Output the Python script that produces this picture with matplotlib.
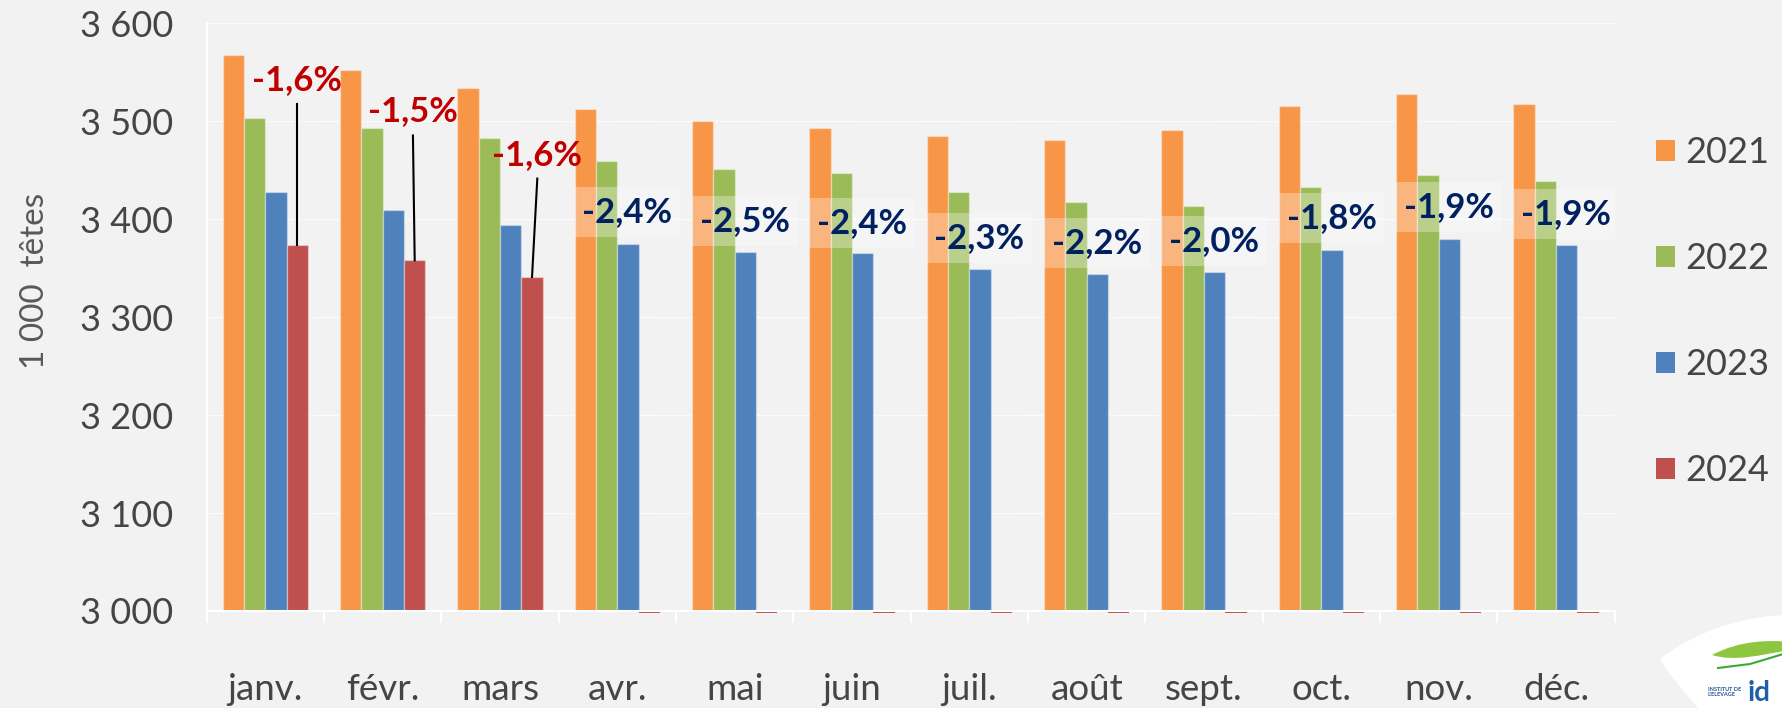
import matplotlib
matplotlib.use("Agg")
import matplotlib.pyplot as plt
import numpy as np
from matplotlib.patches import Rectangle, PathPatch
from matplotlib.path import Path
from matplotlib.lines import Line2D

# ---------------- data ----------------
months = ["janv.", "févr.", "mars", "avr.", "mai", "juin",
          "juil.", "août", "sept.", "oct.", "nov.", "déc."]
years = ["2021", "2022", "2023", "2024"]
v2021 = [3568, 3552, 3534, 3513, 3500, 3493, 3485, 3481, 3491, 3516, 3528, 3518]
v2022 = [3503, 3493, 3483, 3459, 3451, 3447, 3428, 3418, 3413, 3433, 3445, 3439]
v2023 = [3428, 3409, 3394, 3375, 3367, 3365, 3349, 3344, 3346, 3369, 3380, 3374]
v2024 = [3374, 3358, 3341, None, None, None, None, None, None, None, None, None]
pct_labels = ["-1,6%", "-1,5%", "-1,6%", "-2,4%", "-2,5%", "-2,4%",
              "-2,3%", "-2,2%", "-2,0%", "-1,8%", "-1,9%", "-1,9%"]
yticks = [3000, 3100, 3200, 3300, 3400, 3500, 3600]

# ---------------- layout / style ----------------
W, H = 1783, 708
BG = "#F2F2F2"
colors = ["#F79646", "#9BBB59", "#4F81BD", "#C0504D"]
FONT = "Lato"
TXT = "#454545"
# annotation placement (layout only)
red_label_y = [3542, 3510, 3466]
red_label_dx = [0.0, -0.015, 0.045]
navy_label_y = [3407, 3398, 3396, 3381, 3376, 3378, 3401.5, 3412, 3405]

plt.rcParams["font.family"] = [FONT, "DejaVu Sans"]

fig = plt.figure(figsize=(W / 100, H / 100), dpi=100, facecolor=BG)
ax_l, ax_r, ax_t, ax_b = 206.7, 1614.7, 23.3, 611.0
ax = fig.add_axes([ax_l / W, 1 - ax_b / H, (ax_r - ax_l) / W, (ax_b - ax_t) / H])
ax.set_facecolor(BG)

x = np.arange(len(months))
w = 0.1818
offsets = [-1.5 * w, -0.5 * w, 0.5 * w, 1.5 * w]
series = [v2021, v2022, v2023, v2024]
handles = []
for vals, off, c, yr in zip(series, offsets, colors, years):
    present = [(xi, v) for xi, v in zip(x, vals) if v is not None]
    missing = [xi for xi, v in zip(x, vals) if v is None]
    px = np.array([p[0] for p in present])
    pv = np.array([p[1] for p in present], dtype=float)
    b = ax.bar(px + off, pv - 3000, bottom=3000, width=w, color=c,
               edgecolor=(1, 1, 1, 0.35), linewidth=1.0, zorder=2, label=yr)
    handles.append(b)
    if missing:
        ax.bar(np.array(missing) + off, -2.0, bottom=3000, width=w, color=c,
               linewidth=0, zorder=2, clip_on=False)

ax.set_xlim(-0.5, len(months) - 0.5)
ax.set_ylim(3000, 3600)

# grid
ax.set_yticks(yticks)
ax.set_yticklabels([f"{v // 1000} {v % 1000:03d}" for v in yticks])
ax.yaxis.grid(True, color="white", linewidth=1.0, linestyle=(0, (2, 1)), zorder=0)
ax.set_axisbelow(True)

for s in ["top", "right"]:
    ax.spines[s].set_visible(False)
for s in ["left", "bottom"]:
    ax.spines[s].set_color("white")
    ax.spines[s].set_linewidth(1.5)

ax.tick_params(axis="y", length=0, pad=24, labelsize=26, labelcolor=TXT)
ax.set_xticks(x)
ax.set_xticklabels(months)
ax.tick_params(axis="x", which="major", length=0, pad=45, labelsize=26.5,
               labelcolor=TXT)
ax.set_xticks(np.arange(-0.5, len(months), 1.0), minor=True)
ax.tick_params(axis="x", which="minor", length=8.5, width=1.5, color="white")

# y label
fig.text(35 / W, 1 - 281 / H, "1 000  têtes", rotation=90, ha="center",
         va="center", fontsize=24, color="#595959")

# red labels with leader lines (Jan-Mar)
for i in range(3):
    bx = x[i] + offsets[3]
    lx = bx + red_label_dx[i]
    ly = red_label_y[i]
    ax.text(lx, ly, pct_labels[i], ha="center", va="center", fontsize=25,
            fontweight="bold", color="#C00000", zorder=5)
    ax.plot([lx, bx], [ly - 24.5, v2024[i]], color="black", lw=1.5, zorder=4)

# navy labels with translucent boxes (Apr-Dec)
box_w, box_h = 0.9, 51
for k, i in enumerate(range(3, 12)):
    left = x[i] + offsets[0] - w / 2
    cy = navy_label_y[k]
    ax.add_patch(Rectangle((left, cy - box_h / 2), box_w, box_h,
                           facecolor="white", alpha=0.3, edgecolor="none",
                           zorder=3))
    ax.text(left + box_w / 2, cy, pct_labels[i], ha="center", va="center",
            fontsize=25, fontweight="bold", color="#002060", zorder=5)

# legend
leg = ax.legend(handles=handles, labels=years, loc="upper left",
                bbox_to_anchor=(1656 / W, 1 - 136 / H),
                bbox_transform=fig.transFigure, frameon=False,
                prop={"size": 26},
                handlelength=0.52, handleheight=0.52, handletextpad=0.3,
                labelspacing=2.02, borderpad=0, borderaxespad=0)
for t in leg.get_texts():
    t.set_color(TXT)
for p in leg.get_patches():
    p.set_edgecolor("none")

# logo (partial, bottom-right)
def fp(px, py):
    return (px / W, 1 - py / H)

verts = [fp(1660, 659), fp(1700, 628), fp(1750, 615), fp(1790, 615),
         fp(1790, 710), fp(1700, 710), fp(1700, 710), fp(1672, 680),
         fp(1660, 659)]
codes = [Path.MOVETO, Path.CURVE4, Path.CURVE4, Path.CURVE4,
         Path.LINETO, Path.LINETO, Path.CURVE4, Path.CURVE4, Path.CURVE4]
fig.patches.append(PathPatch(Path(verts, codes), facecolor="white",
                             edgecolor="none", transform=fig.transFigure))
gv = [fp(1712, 655), fp(1740, 640), fp(1770, 640), fp(1790, 642),
      fp(1790, 650), fp(1760, 655), fp(1735, 662), fp(1712, 655)]
gc = [Path.MOVETO, Path.CURVE4, Path.CURVE4, Path.CURVE4,
      Path.LINETO, Path.CURVE4, Path.CURVE4, Path.CURVE4]
fig.patches.append(PathPatch(Path(gv, gc), facecolor="#8DC63F",
                             edgecolor="none", transform=fig.transFigure))
fig.add_artist(Line2D([1718 / W, 1750 / W, 1790 / W],
                      [1 - 668 / H, 1 - 664 / H, 1 - 652 / H],
                      color="#3AAA35", lw=1.5, transform=fig.transFigure))
fig.text(1708 / W, 1 - 692 / H, "INSTITUT DE\nL'ELEVAGE", fontsize=4,
         fontweight="bold", color="#1F4E9A", va="center", ha="left",
         linespacing=1.0)
fig.text(1748 / W, 1 - 706 / H, "id", fontsize=20, fontweight="bold",
         color="#1F5FA8", va="bottom", ha="left")

fig.savefig("out.png", dpi=100, facecolor=BG)
